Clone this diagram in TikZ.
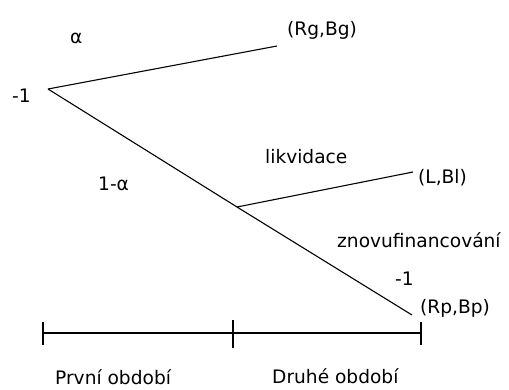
\documentclass[tikz,border=0pt]{standalone}
\usepackage{fontspec}
\setmainfont{DejaVu Sans}
\begin{document}
\begin{tikzpicture}[x=1pt,y=-1pt,
  br/.style={line width=1.1pt},
  lbl/.style={inner sep=0pt,anchor=base west,font=\fontsize{18.6}{21}\selectfont}]
\clip (0,0) rectangle (509,389);
\fill[white] (0,0) rectangle (509,389);
% tree points
\coordinate (root) at (48,89);
\coordinate (up) at (277,46);
\coordinate (mid) at (237,207);
\coordinate (lend) at (413,172);
\coordinate (rpend) at (412,315);
\draw[br] (root) -- (up);
\draw[br] (root) -- (mid);
\draw[br] (mid) -- (lend);
\draw[br] (mid) -- (rpend);
% labels
\node[lbl] (alpha) at (70,43) {α};
\node[lbl] (m1) at (12,102) {-1};
\node[lbl] (rg) at (287,35) {(Rg,Bg)};
\node[lbl] (oma) at (98,190) {1-α};
\node[lbl] (likv) at (265,163) {likvidace};
\node[lbl] (lbl) at (418,183) {(L,Bl)};
\node[lbl] (znov) at (337,247) {znovufinancování};
\node[lbl] (m2) at (395,285) {-1};
\node[lbl] (rp) at (420,313) {(Rp,Bp)};
% timeline
\coordinate (t0) at (43,333);
\coordinate (t1) at (233,333);
\coordinate (t2) at (421,333);
\draw[br] (t0) -- (t1) -- (t2);
\draw[br] (43,322) -- (43,345);
\draw[br] (233,320) -- (233,348);
\draw[br] (421,322) -- (421,345);
\node[lbl] (p1) at (55,384) {První období};
\node[lbl] (p2) at (272,383) {Druhé období};
\end{tikzpicture}
\end{document}
